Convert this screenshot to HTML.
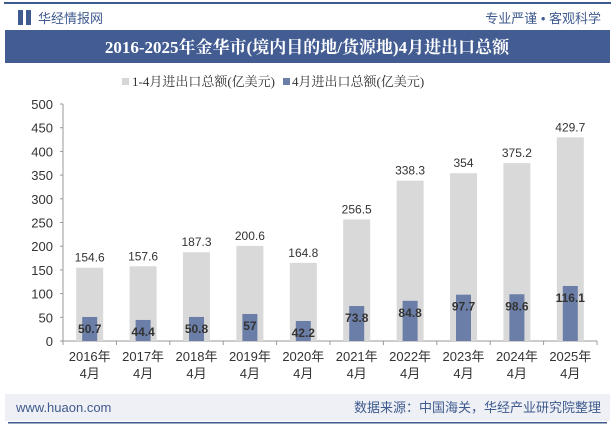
<!DOCTYPE html>
<html><head><meta charset="utf-8"><style>
body{margin:0;width:615px;height:427px;overflow:hidden;background:#fff;font-family:"Liberation Sans","Noto Sans CJK SC",sans-serif;}
svg text{font-family:"Liberation Sans","Noto Sans CJK SC",sans-serif;}
</style></head><body>
<svg width="615" height="427">
<rect x="4" y="2" width="607" height="2" fill="#3f5a8e"/>
<rect x="18" y="10" width="5" height="15" fill="#3f5a8e"/>
<rect x="26" y="10" width="5" height="15" fill="#3f5a8e"/>
<text x="38" y="23" font-size="13" fill="#3f5a8e">华经情报网</text>
<text x="601" y="23" font-size="13" fill="#3f5a8e" text-anchor="end">专业严谨 • 客观科学</text>
<rect x="5" y="30" width="605" height="33" fill="#435d93"/>
<text x="307" y="53" font-size="17" font-weight="bold" fill="#fff" text-anchor="middle" style="font-family:'Liberation Serif','Noto Serif CJK SC',serif">2016-2025年金华市(境内目的地/货源地)4月进出口总额</text>
<rect x="122" y="78" width="7" height="7" fill="#d6d6d6"/>
<text x="132" y="86" font-size="13" fill="#333" style="font-family:'Liberation Serif','Noto Serif CJK SC',serif">1-4月进出口总额(亿美元)</text>
<rect x="283" y="78" width="7" height="7" fill="#6a7ea8"/>
<text x="292" y="86" font-size="13" fill="#333" style="font-family:'Liberation Serif','Noto Serif CJK SC',serif">4月进出口总额(亿美元)</text>
<g id="plot"></g>
<rect x="5" y="394" width="605" height="27" fill="#eef0f5"/>
<text x="16" y="412" font-size="13" fill="#3f5a8e">www.huaon.com</text>
<text x="601" y="412" font-size="13" fill="#3f5a8e" text-anchor="end">数据来源：中国海关，华经产业研究院整理</text>
<rect x="8" y="422" width="599" height="1.5" fill="#3f5a8e"/>
</svg>
<script>
const categories=["2016年","2017年","2018年","2019年","2020年","2021年","2022年","2023年","2024年","2025年"];
const totalValues=[154.6,157.6,187.3,200.6,164.8,256.5,338.3,354,375.2,429.7];
const aprilValues=[50.7,44.4,50.8,57,42.2,73.8,84.8,97.7,98.6,116.1];
const yTicks=[0,50,100,150,200,250,300,350,400,450,500];
const NS="http://www.w3.org/2000/svg";
const g=document.getElementById('plot');
const x0=63,x1=597,y0=341,y1=104;
const bw=(x1-x0)/categories.length;
const y=v=>y0-(v/500)*(y0-y1);
const xc=i=>x0+bw*(i+0.5);
function mk(t,a,txt){const e=document.createElementNS(NS,t);for(const k in a)e.setAttribute(k,a[k]);if(txt!==undefined)e.textContent=txt;g.appendChild(e);return e;}
let ax=mk('line',{x1:x0,y1:y0,x2:x1,y2:y0,stroke:'#999'});


let ay=mk('line',{x1:x0,y1:y1,x2:x0,y2:y0,stroke:'#999'});


mk('line',{x1:x0,y1:y0,x2:x0,y2:y0+4,stroke:'#999'});
yTicks.forEach(t=>{
 mk('line',{x1:x0-3,y1:y(t),x2:x0,y2:y(t),stroke:'#999'});
 let l=mk('text',{x:x0-10,y:y(t)+5,'font-size':13,fill:'#333','text-anchor':'end'},t);
 
 
});
categories.forEach((c,i)=>{
 const cx=xc(i);
 mk('line',{x1:x0+bw*(i+1),y1:y0,x2:x0+bw*(i+1),y2:y0+4,stroke:'#999'});
 let b=mk('rect',{x:cx-13.5,y:y(totalValues[i]),width:27,height:y0-y(totalValues[i]),fill:'#d9d9d9'});
 
 
 let tl=mk('text',{x:cx,y:y(totalValues[i])-6,'font-size':12,fill:'#333','text-anchor':'middle'},totalValues[i]);
 
 
 let d=mk('rect',{x:cx-7.5,y:y(aprilValues[i]),width:15,height:y0-y(aprilValues[i]),fill:'#6a7ea8'});
 
 
 let dl=mk('text',{x:cx,y:y(aprilValues[i])+16,'font-size':12,'font-weight':'bold',fill:'#333','text-anchor':'middle'},aprilValues[i]);
 
 
 let c1=mk('text',{x:cx,y:361,'font-size':13,fill:'#333','text-anchor':'middle'},c);
 
 
 let c2=mk('text',{x:cx,y:378,'font-size':13,fill:'#333','text-anchor':'middle'},'4月');
 
 
});
</script>
</body></html>
